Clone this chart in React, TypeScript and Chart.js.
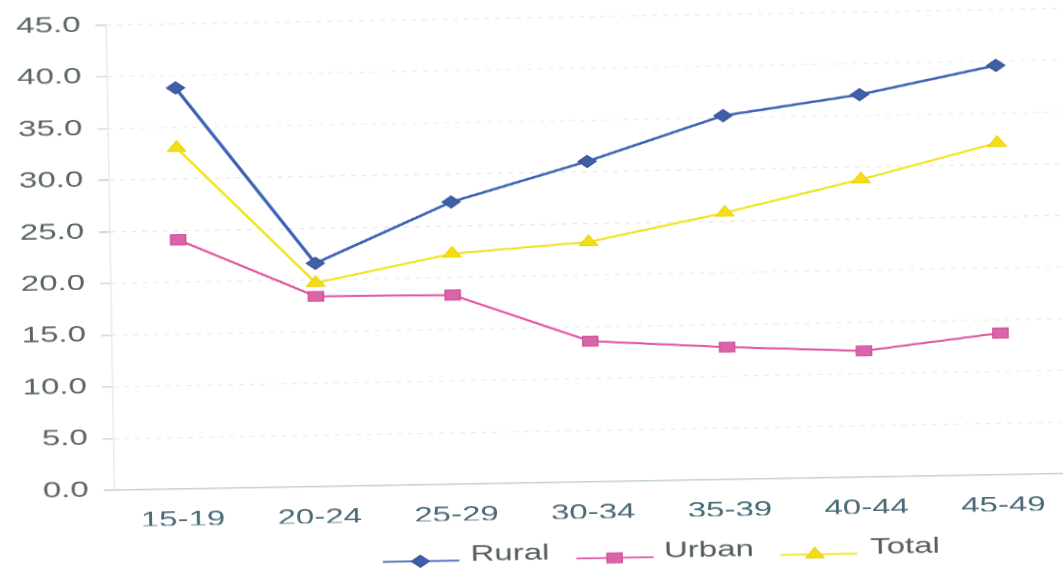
import React, { useEffect, useRef } from 'react';
import { Chart, registerables } from 'chart.js';

Chart.register(...registerables);

// Age groups on the category axis
const ageGroups = ['15-19', '20-24', '25-29', '30-34', '35-39', '40-44', '45-49'];

// Series values (%)
const ruralValues = [38.8, 21.6, 27.3, 31.0, 35.2, 37.0, 39.6];
const urbanValues = [24.1, 18.4, 18.3, 13.6, 12.8, 12.2, 13.7];
const totalValues = [33.0, 19.7, 22.3, 23.2, 25.8, 28.8, 32.1];

const seriesNames = ['Rural', 'Urban', 'Total'];

// Value axis
const yMin = 0;
const yMax = 45;
const yStep = 5;

// The chart is drawn on a narrow canvas and widened 1.5x, then tilted by 1deg.
const STRETCH = 1.5;
const CANVAS_W = 720;
const CANVAS_H = 569;
const FONT = '"Liberation Sans", Arial, Helvetica, sans-serif';

// Bottom legend slots, in canvas units (before widening)
const legendSlots = [
  { lineFrom: 252, lineTo: 303, marker: 277, text: 310.5 },
  { lineFrom: 381, lineTo: 432.5, marker: 406.5, text: 439.5 },
  { lineFrom: 517, lineTo: 568.5, marker: 540, text: 577 },
];
const LEGEND_LINE_Y = 559;
const LEGEND_TEXT_Y = 553;

function traceMarker(ctx: CanvasRenderingContext2D, style: string, x: number, y: number, r: number) {
  ctx.beginPath();
  if (style === 'rectRot') {
    ctx.moveTo(x - r, y);
    ctx.lineTo(x, y - r);
    ctx.lineTo(x + r, y);
    ctx.lineTo(x, y + r);
  } else if (style === 'rect') {
    const s = Math.SQRT1_2 * r;
    ctx.rect(x - s, y - s, 2 * s, 2 * s);
  } else {
    const a = (2 * Math.PI) / 3;
    ctx.moveTo(x, y - r);
    ctx.lineTo(x + Math.sin(a) * r, y - Math.cos(a) * r);
    ctx.lineTo(x + Math.sin(2 * a) * r, y - Math.cos(2 * a) * r);
  }
  ctx.closePath();
}

const bottomLegend = {
  id: 'bottomLegend',
  afterDraw(chart: any) {
    const ctx: CanvasRenderingContext2D = chart.ctx;
    ctx.save();
    chart.data.datasets.forEach((ds: any, i: number) => {
      const slot = legendSlots[i];
      if (!slot) return;
      ctx.setLineDash([]);
      ctx.strokeStyle = ds.borderColor;
      ctx.lineWidth = 1.6;
      ctx.beginPath();
      ctx.moveTo(slot.lineFrom, LEGEND_LINE_Y);
      ctx.lineTo(slot.lineTo, LEGEND_LINE_Y);
      ctx.stroke();

      traceMarker(ctx, ds.pointStyle, slot.marker, LEGEND_LINE_Y, ds.pointRadius);
      ctx.fillStyle = ds.pointBackgroundColor;
      ctx.fill();
      ctx.lineWidth = 1;
      ctx.strokeStyle = ds.pointBorderColor;
      ctx.stroke();

      ctx.font = `22px ${FONT}`;
      ctx.fillStyle = '#555c5c';
      ctx.textAlign = 'left';
      ctx.textBaseline = 'middle';
      ctx.fillText(ds.label, slot.text, LEGEND_TEXT_Y);
    });
    ctx.restore();
  },
};

export default function App() {
  const canvasRef = useRef<HTMLCanvasElement | null>(null);

  useEffect(() => {
    const canvas = canvasRef.current;
    if (!canvas) return;

    const chart = new Chart(canvas, {
      type: 'line',
      data: {
        labels: ageGroups,
        datasets: [
          {
            label: seriesNames[0],
            data: ruralValues,
            borderColor: '#3d63b3',
            borderWidth: 2.4,
            pointStyle: 'rectRot',
            pointRadius: 6,
            pointBackgroundColor: '#3f5fa6',
            pointBorderColor: '#34539a',
            pointBorderWidth: 1,
            tension: 0,
          },
          {
            label: seriesNames[1],
            data: urbanValues,
            borderColor: '#e0559f',
            borderWidth: 2,
            pointStyle: 'rect',
            pointRadius: 7.1,
            pointBackgroundColor: '#d965a8',
            pointBorderColor: '#d0529a',
            pointBorderWidth: 1,
            tension: 0,
          },
          {
            label: seriesNames[2],
            data: totalValues,
            borderColor: '#f1e31e',
            borderWidth: 2,
            pointStyle: 'triangle',
            pointRadius: 7,
            pointBackgroundColor: '#f3de14',
            pointBorderColor: '#eed410',
            pointBorderWidth: 1,
            tension: 0,
          },
        ],
      },
      options: {
        responsive: false,
        animation: false,
        devicePixelRatio: STRETCH,
        layout: { padding: { top: 17.7, right: 0, bottom: 50, left: 0 } },
        plugins: {
          legend: { display: false },
          tooltip: { enabled: false },
        },
        scales: {
          x: {
            offset: true,
            grid: { display: false, drawTicks: false },
            border: { display: true, color: '#b6c8c8', width: 1 },
            ticks: {
              color: '#4a6a76',
              padding: 18,
              maxRotation: 0,
              font: { family: FONT, size: 22 },
            },
            afterFit: (scale: any) => {
              scale.height = 36.5;
            },
          },
          y: {
            min: yMin,
            max: yMax,
            grid: {
              color: 'rgba(165,180,180,0.3)',
              lineWidth: 1,
              drawTicks: true,
              tickLength: 7,
              tickColor: '#b4c2c2',
              tickWidth: 1,
              tickBorderDash: [],
            },
            border: { display: true, color: 'rgba(200,210,210,0.45)', width: 1, dash: [3, 4] },
            ticks: {
              stepSize: yStep,
              color: '#5a6464',
              padding: 10,
              font: { family: FONT, size: 22 },
              callback: (v: any) => Number(v).toFixed(1),
            },
            afterFit: (scale: any) => {
              scale.width = 73.7;
              scale.paddingTop = 0;
              scale.paddingBottom = 0;
            },
          },
        },
      },
      plugins: [bottomLegend],
    });

    return () => chart.destroy();
  }, []);

  return (
    <div
      style={{
        position: 'absolute',
        left: 0,
        top: 0,
        width: 1063,
        height: 569,
        overflow: 'hidden',
        background: '#ffffff',
      }}
    >
      <canvas
        ref={canvasRef}
        width={CANVAS_W}
        height={CANVAS_H}
        style={{
          position: 'absolute',
          left: 0,
          top: 0,
          transformOrigin: '0 0',
          transform: `translate(530px, 280px) rotate(-1deg) translate(-530px, -280px) scaleX(${STRETCH})`,
        }}
      />
    </div>
  );
}
